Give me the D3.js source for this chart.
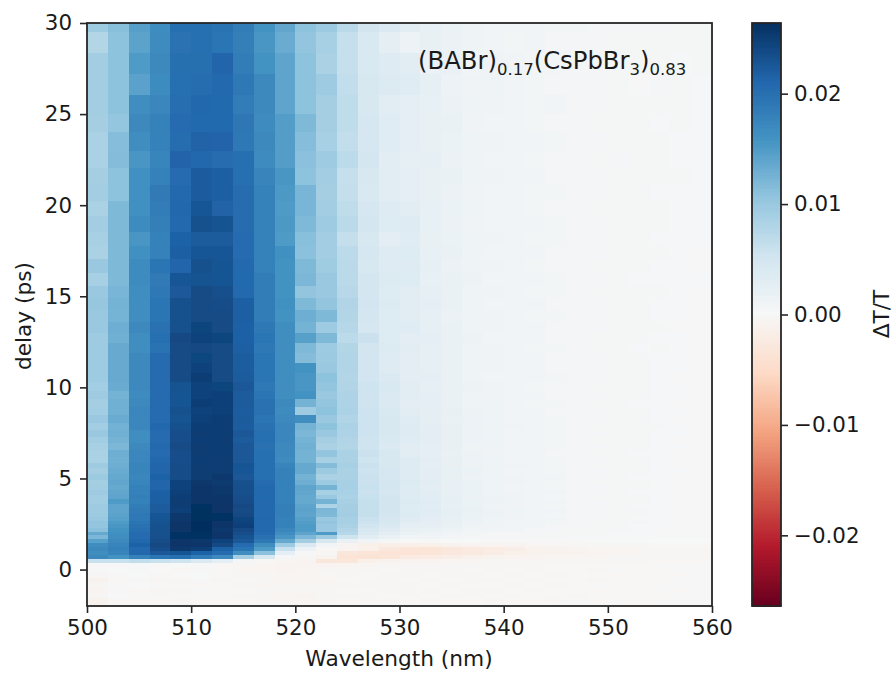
<!DOCTYPE html>
<html>
<head>
<meta charset="utf-8">
<script src="https://cdn.jsdelivr.net/npm/d3@7"></script>
<style>
  body { margin: 0; background: #fff; }
  text { font-family: "DejaVu Sans", sans-serif; fill: #1a1a1a; }
  .tick text { font-size: 21.4px; }
  .axis path, .axis line { stroke: #262626; stroke-width: 1.6px; }
  .label { font-size: 21.7px; }
</style>
</head>
<body>
<svg id="graph" width="893" height="673"></svg>
<script>
"use strict";
// column left edges are 2 nm apart, 500..558
var wavelengths = [500,502,504,506,508,510,512,514,516,518,520,522,524,526,528,530,532,534,536,538,540,542,544,546,548,550,552,554,556,558,560];
// delay bin edges in ps, top to bottom
var delays = [30,29.52,28.34,27.18,26.04,24.99,24,22.99,22.06,21.11,
  20.23,19.41,18.55,17.78,17.03,16.3,15.57,14.89,14.25,13.61,
  13,12.42,11.87,11.32,10.77,10.31,9.82,9.36,8.94,8.49,
  8.06,7.66,7.26,6.93,6.56,6.2,5.87,5.56,5.23,4.92,
  4.64,4.37,4.09,3.86,3.6,3.36,3.12,2.9,2.68,2.49,
  2.27,2.08,1.9,1.68,1.46,1.24,1.02,0.8,0.58,0.36,
  0.09,-0.19,-0.46,-0.74,-1.01,-1.28,-1.56,-2];
// dT/T in units of 1e-4, one row per delay bin
var signal = [
  [96,112,146,166,200,200,196,185,160,138,108,98,72,50,40,30,22,16,12,10,9,8,7,7,6,5,5,5,4,4],
  [78,108,142,168,197,200,194,182,155,132,105,88,62,42,27,15,20,17,13,9,7,8,6,6,5,4,4,4,4,4],
  [92,108,150,170,201,201,212,186,160,140,108,85,62,42,35,30,17,18,10,11,8,7,7,5,5,5,4,4,3,4],
  [92,108,143,167,200,203,208,190,170,140,108,95,65,43,37,32,24,15,11,12,8,7,6,6,5,4,2,5,4,3],
  [92,108,165,172,202,210,206,186,170,140,108,90,68,44,30,26,22,17,12,11,9,7,8,6,5,4,4,4,4,3],
  [90,104,170,180,205,207,206,192,168,148,118,90,68,46,32,26,20,18,11,9,10,7,6,5,4,4,4,3,4,3],
  [85,114,165,178,203,214,213,190,170,148,114,88,65,46,32,26,21,16,13,11,8,8,7,5,5,4,4,4,3,3],
  [85,115,155,175,213,210,204,200,168,148,110,95,70,48,30,24,23,17,12,10,10,7,6,6,4,5,4,4,3,3],
  [90,108,162,180,205,221,218,200,176,155,108,92,62,44,30,26,20,18,13,11,8,8,6,5,5,4,4,4,4,3],
  [92,108,162,188,208,221,218,204,180,152,122,90,64,42,30,26,20,17,11,10,9,7,7,5,5,4,4,3,3,3],
  [85,118,162,185,210,226,214,204,180,150,122,92,68,46,34,30,22,16,12,10,9,7,6,6,4,4,4,4,3,3],
  [92,118,168,182,208,232,230,204,178,152,118,95,72,48,36,34,22,17,11,10,8,8,7,5,5,4,4,4,3,3],
  [88,118,155,180,215,222,222,205,178,150,112,92,64,44,28,32,20,16,12,11,8,7,7,6,5,4,4,3,3,3],
  [85,118,162,180,218,226,226,205,180,162,110,92,70,46,35,36,22,18,13,10,9,8,6,5,5,4,4,4,3,2],
  [100,118,168,195,212,232,228,208,178,160,118,94,72,44,34,34,24,17,12,11,9,7,6,6,4,4,4,3,3,2],
  [88,118,168,188,226,230,228,206,186,160,120,100,72,48,38,36,22,18,14,10,8,8,7,5,5,4,3,3,3,3],
  [100,122,165,190,224,238,234,208,186,160,105,100,74,48,36,30,24,19,12,11,9,7,7,5,4,4,4,4,3,2],
  [102,125,165,195,232,238,236,218,186,162,118,105,80,52,38,30,26,18,13,10,10,8,6,6,5,4,4,3,3,2],
  [100,124,165,195,232,238,238,218,186,160,130,118,78,48,36,30,24,17,13,11,9,7,7,5,5,4,4,3,3,2],
  [100,130,170,198,232,244,238,216,190,165,125,95,76,46,36,32,24,18,12,11,8,8,6,5,5,4,4,4,2,2],
  [95,128,165,200,240,246,244,216,195,165,145,118,70,58,36,28,26,19,14,10,10,8,6,6,4,4,4,3,3,2],
  [96,134,165,196,238,240,238,218,190,165,118,96,78,50,38,30,24,18,13,11,9,7,7,5,4,4,3,4,3,2],
  [96,134,170,205,238,242,238,220,195,165,115,98,80,52,35,28,24,18,13,11,9,8,6,6,5,4,4,3,3,2],
  [96,134,170,205,238,246,238,220,195,165,160,100,80,52,35,28,24,18,13,11,9,8,6,6,5,4,4,3,3,2],
  [96,134,170,205,238,250,238,222,195,165,155,108,78,52,40,28,26,19,12,10,9,8,7,5,5,4,4,3,2,2],
  [92,132,170,205,230,245,244,225,190,165,155,105,80,55,42,30,24,18,14,11,9,7,6,6,4,4,4,3,3,2],
  [95,125,168,205,228,245,248,222,195,165,160,100,82,54,40,30,25,19,13,11,10,8,6,5,5,4,4,3,3,2],
  [90,128,170,205,228,250,248,222,198,170,125,105,82,54,40,28,26,18,13,12,9,7,7,5,4,4,3,3,2,2],
  [92,128,172,205,232,246,248,220,198,168,95,108,84,56,42,30,27,20,14,12,10,8,6,6,5,4,4,3,3,2],
  [100,132,172,205,230,248,250,222,195,170,165,100,80,56,44,32,27,19,15,12,10,8,7,5,5,4,4,3,2,2],
  [92,126,172,210,232,250,250,220,198,172,125,108,84,56,44,35,28,20,14,13,11,9,7,6,4,4,4,4,3,2],
  [100,128,165,205,235,252,250,225,200,172,120,100,82,56,44,34,28,20,15,12,10,9,7,6,5,4,4,3,3,2],
  [92,125,165,205,235,250,252,222,200,172,125,90,80,54,42,32,28,21,15,13,10,8,7,6,4,4,4,3,2,2],
  [88,120,170,208,238,252,250,225,198,170,128,85,78,55,40,30,26,20,13,12,10,9,7,5,5,4,4,3,3,2],
  [85,130,172,205,235,252,250,225,200,170,125,105,85,58,44,30,26,19,14,11,10,8,6,6,4,4,3,3,2,2],
  [85,128,172,210,235,250,252,225,200,168,125,88,85,55,44,36,28,20,15,12,9,8,7,5,5,4,4,3,2,2],
  [95,130,175,212,236,252,250,228,200,175,135,115,88,58,44,34,26,21,14,12,11,9,7,6,4,4,4,3,2,2],
  [90,132,175,212,236,252,252,226,200,178,135,98,85,56,46,34,28,22,16,13,10,8,7,6,5,4,4,3,3,2],
  [98,135,172,215,236,252,255,225,200,178,125,85,85,58,46,36,28,21,15,12,11,8,8,5,5,4,3,3,2,2],
  [90,138,175,212,245,256,254,232,205,178,130,98,88,58,48,38,30,22,16,13,11,9,7,6,4,4,4,3,2,2],
  [92,135,178,212,245,258,255,234,206,178,140,125,88,60,48,36,28,21,16,13,10,8,7,6,5,4,4,2,2,2],
  [95,138,180,216,248,258,256,232,208,178,138,88,86,58,46,34,30,22,16,13,11,9,8,5,5,4,3,3,2,2],
  [92,140,182,218,250,258,258,235,206,180,135,100,84,60,50,36,30,23,17,14,11,9,7,6,4,4,4,3,2,2],
  [92,150,180,218,252,260,258,236,208,180,135,125,88,62,50,38,32,24,16,14,12,10,8,6,5,4,4,3,2,2],
  [95,140,185,222,252,262,260,240,208,182,140,82,90,62,50,36,30,22,16,13,11,9,7,6,5,4,3,3,2,2],
  [95,140,188,222,248,264,258,238,208,182,142,120,90,62,50,36,32,24,18,14,12,10,8,6,5,4,4,3,2,2],
  [98,142,190,226,255,264,262,240,208,182,140,118,92,62,48,38,30,24,16,14,11,9,7,6,4,4,4,3,2,2],
  [100,145,190,228,256,264,262,244,210,180,145,100,88,58,46,34,28,22,16,13,11,9,8,5,5,4,3,2,2,2],
  [105,150,195,230,258,266,260,246,208,178,148,105,88,56,44,30,26,21,15,12,10,8,7,6,4,4,4,3,2,2],
  [105,155,198,232,260,266,258,248,208,178,150,100,85,52,40,26,24,19,13,11,10,8,6,5,4,4,3,3,2,2],
  [110,160,200,232,260,266,255,240,208,172,150,100,80,45,34,20,18,14,10,9,8,6,5,4,4,4,3,2,2,2],
  [135,162,205,232,262,264,258,235,205,165,140,150,75,40,28,16,12,10,7,6,6,5,4,4,4,3,2,2,2,2],
  [120,165,205,234,262,262,258,230,198,155,120,95,55,30,18,10,8,7,5,5,5,4,4,3,3,2,2,2,2,2],
  [145,170,210,236,258,256,245,225,190,135,90,45,18,8,4,0,-1,1,1,2,2,2,2,2,1,1,1,1,1,1],
  [165,175,215,240,258,258,240,205,165,95,40,8,-8,-14,-16,-16,-14,-10,-8,-8,-8,-6,-4,-4,-4,-3,-3,-2,-2,-2],
  [170,180,208,235,255,250,215,195,150,60,15,-2,-8,-14,-28,-34,-36,-30,-25,-22,-18,-12,-9,-7,-6,-5,-5,-4,-3,-3],
  [165,175,210,225,228,215,205,165,110,25,2,-3,-30,-34,-36,-36,-34,-28,-26,-20,-14,-10,-9,-9,-7,-6,-5,-4,-3,-3],
  [170,160,180,195,200,185,170,90,45,5,-4,-10,-36,-38,-34,-24,-22,-18,-13,-10,-8,-7,-6,-5,-5,-4,-3,-3,-3,-3],
  [60,60,65,60,55,40,25,5,-2,-6,-8,-30,-32,-14,-10,-8,-7,-6,-6,-4,-5,-4,-4,-3,-3,-3,-3,-2,-2,-2],
  [2,2,3,2,1,-1,-2,-4,-6,-8,-8,-8,-5,-5,-4,-4,-3,-3,-3,-4,-3,-3,-2,-2,-2,-2,-2,-1,-1,-1],
  [-1,1,2,0,-2,-1,-2,-5,-6,-7,-6,-4,-3,-4,-2,-3,-3,-5,-2,-3,-2,-4,-2,-2,-3,-1,-2,-2,-1,-1],
  [-3,-1,1,-2,0,1,-2,-3,-4,-6,-5,-2,-4,-2,-3,-4,-2,-3,-4,-2,-3,-2,-3,-1,-2,-2,-2,-1,-2,-1],
  [-10,-2,-1,-3,-4,-1,-4,-2,-3,-5,-6,-5,-2,-4,-3,-2,-4,-2,-3,-3,-2,-3,-2,-2,-3,-1,-2,-2,-1,-1],
  [-3,-1,0,-1,-2,-2,-1,-3,-5,-4,-5,-3,-3,-3,-4,-3,-2,-4,-2,-2,-3,-2,-3,-2,-1,-2,-2,-1,-1,-1],
  [-8,-1,-2,-4,-3,-1,-2,-2,-4,-6,-4,-4,-2,-2,-3,-4,-3,-2,-3,-3,-2,-3,-2,-2,-2,-2,-1,-1,-2,-1],
  [-3,0,-1,-3,-2,-2,-1,-3,-3,-5,-7,-3,-3,-4,-2,-3,-2,-3,-4,-2,-3,-2,-2,-3,-1,-2,-2,-2,-1,-1],
  [-10,-2,-2,-2,-3,-2,-2,-2,-4,-4,-5,-4,-2,-3,-3,-2,-3,-2,-2,-3,-2,-2,-3,-1,-2,-1,-2,-1,-1,-1]
];
var xTicks = [500,510,520,530,540,550,560];
var yTicks = [0,5,10,15,20,25,30];
var cTicks = [-0.02,-0.01,0,0.01,0.02];
var vLimit = 0.0264;
// matplotlib RdBu anchors, low to high
var rdbu = ["#67001f","#b2182b","#d6604d","#f4a582","#fddbc7","#f7f7f7","#d1e5f0","#92c5de","#4393c3","#2166ac","#053061"];

var margin = {top: 23, left: 87},
  width = 625,
  height = 583,
  barX = 752,
  barW = 29;

var svg = d3.select("#graph");

var x = d3.scaleLinear().domain([500, 560]).range([0, width]);
var y = d3.scaleLinear().domain([-2, 30]).range([height, 0]);
var c = d3.scaleLinear().domain([-vLimit, vLimit]).range([height, 0]);
var color = d3.scaleLinear()
  .domain(rdbu.map((d, i) => -vLimit + 2 * vLimit * i / (rdbu.length - 1)))
  .range(rdbu);

svg.append("defs").append("filter")
  .attr("id", "soft")
  .append("feGaussianBlur")
  .attr("stdDeviation", 0.5);

var plot = svg.append("g")
  .attr("transform", "translate(" + margin.left + "," + margin.top + ")");

var cells = [];
signal.forEach(function(row, i) {
  row.forEach(function(v, j) {
    cells.push({i: i, j: j, v: v / 1e4});
  });
});

plot.append("g")
  .attr("filter", "url(#soft)")
  .selectAll("rect")
  .data(cells)
  .join("rect")
  .attr("shape-rendering", "crispEdges")
  .attr("x", d => x(wavelengths[d.j]))
  .attr("width", d => x(wavelengths[d.j + 1]) - x(wavelengths[d.j]) + 0.5)
  .attr("y", d => y(delays[d.i]))
  .attr("height", d => y(delays[d.i + 1]) - y(delays[d.i]) + 0.5)
  .attr("fill", d => color(d.v));

plot.append("rect")
  .attr("width", width)
  .attr("height", height)
  .attr("fill", "none")
  .attr("stroke", "#262626")
  .attr("stroke-width", 1.8);

plot.append("g")
  .attr("class", "axis")
  .attr("transform", "translate(0," + height + ")")
  .call(d3.axisBottom(x).tickValues(xTicks).tickSize(7).tickPadding(7).tickSizeOuter(0));

plot.append("g")
  .attr("class", "axis")
  .call(d3.axisLeft(y).tickValues(yTicks).tickSize(7).tickPadding(8).tickSizeOuter(0));

// Colour bar
var bar = svg.append("g")
  .attr("transform", "translate(" + barX + "," + margin.top + ")");

bar.selectAll("rect")
  .data(d3.range(256))
  .join("rect")
  .attr("shape-rendering", "crispEdges")
  .attr("width", barW)
  .attr("y", d => c(vLimit - 2 * vLimit * d / 256))
  .attr("height", height / 256 + 0.5)
  .attr("fill", d => color(vLimit - 2 * vLimit * (d + 0.5) / 256));

bar.append("rect")
  .attr("width", barW)
  .attr("height", height)
  .attr("fill", "none")
  .attr("stroke", "#262626")
  .attr("stroke-width", 1.8);

bar.append("g")
  .attr("class", "axis")
  .attr("transform", "translate(" + barW + ",0)")
  .call(d3.axisRight(c).tickValues(cTicks).tickFormat(d3.format(".2f")).tickSize(7).tickPadding(6).tickSizeOuter(0));

svg.selectAll(".axis .domain").remove();

// Labels
svg.append("text")
  .attr("class", "label")
  .attr("text-anchor", "middle")
  .attr("x", 399)
  .attr("y", 666)
  .text("Wavelength (nm)");

svg.append("text")
  .attr("class", "label")
  .attr("text-anchor", "middle")
  .attr("transform", "translate(31,316) rotate(-90)")
  .text("delay (ps)");

svg.append("text")
  .attr("class", "label")
  .attr("text-anchor", "middle")
  .attr("transform", "translate(889,314) rotate(-90)")
  .text("ΔT/T");

var title = svg.append("text")
  .attr("x", 418)
  .attr("y", 69);
[["(BABr)", 0], ["0.17", 6], ["(CsPbBr", -6], ["3", 6], [")", -6], ["0.83", 6]].forEach(function(p) {
  title.append("tspan")
    .attr("dy", p[1])
    .attr("font-size", p[1] > 0 ? 16.5 : 24.3)
    .text(p[0]);
});
</script>
</body>
</html>
